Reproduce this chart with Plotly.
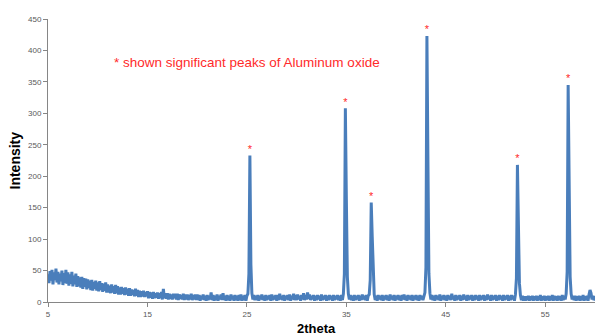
import plotly.graph_objects as go

# 2theta scan: start, step (degrees)
scan_start = 5.0
scan_step = 0.1

# Intensity, one row per degree (x.0 ... x.9)
intensity_rows = [
    [44, 30, 49, 34, 51, 28, 47, 35, 53, 31],   # 5
    [48, 28, 45, 33, 50, 27, 46, 30, 51, 29],   # 6
    [47, 26, 44, 29, 48, 25, 42, 28, 45, 24],   # 7
    [41, 25, 39, 23, 40, 21, 38, 24, 37, 20],   # 8
    [36, 22, 34, 19, 35, 18, 32, 21, 34, 18],   # 9
    [31, 17, 33, 19, 30, 16, 29, 18, 31, 15],   # 10
    [28, 15, 26, 14, 28, 15, 25, 13, 27, 14],   # 11
    [25, 12, 23, 12, 24, 13, 22, 11, 23, 12],   # 12
    [21, 10, 22, 10, 20, 11, 19, 9, 21, 10],    # 13
    [19, 8, 18, 8, 17, 9, 18, 8, 16, 9],        # 14
    [17, 6, 16, 7, 15, 5, 16, 6, 14, 7],        # 15
    [15, 5, 14, 6, 16, 4, 21, 6, 14, 5],        # 16
    [14, 4, 13, 5, 12, 4, 13, 6, 13, 4],        # 17
    [13, 3, 12, 5, 11, 4, 13, 3, 12, 4],        # 18
    [12, 3, 11, 4, 13, 3, 11, 4, 12, 3],        # 19
    [12, 3, 11, 2, 10, 4, 12, 3, 10, 2],        # 20
    [11, 3, 10, 4, 15, 3, 11, 2, 10, 3],        # 21
    [12, 2, 10, 4, 12, 3, 14, 3, 10, 2],        # 22
    [11, 3, 10, 2, 12, 4, 10, 2, 11, 3],        # 23
    [10, 2, 11, 3, 12, 2, 10, 3, 11, 2],        # 24
    [10, 13, 45, 233, 60, 14, 4, 11, 3, 10],    # 25
    [3, 11, 2, 10, 4, 12, 3, 10, 2, 11],        # 26
    [3, 10, 4, 11, 2, 12, 3, 10, 4, 11],        # 27
    [2, 11, 3, 13, 4, 10, 3, 11, 2, 10],        # 28
    [4, 11, 3, 12, 2, 10, 4, 13, 3, 11],        # 29
    [3, 12, 4, 10, 2, 11, 4, 14, 3, 11],        # 30
    [4, 15, 5, 12, 3, 10, 4, 11, 2, 10],        # 31
    [3, 11, 4, 10, 2, 12, 3, 10, 4, 11],        # 32
    [2, 10, 3, 11, 4, 10, 2, 11, 3, 10],        # 33
    [4, 11, 3, 10, 2, 11, 3, 13, 45, 308],      # 34
    [163, 40, 13, 4, 11, 3, 10, 2, 11, 3],      # 35
    [10, 4, 11, 2, 10, 3, 12, 4, 10, 3],        # 36
    [11, 2, 10, 12, 35, 158, 104, 30, 12, 3],   # 37
    [10, 2, 11, 4, 10, 3, 11, 2, 10, 4],        # 38
    [11, 3, 10, 2, 12, 4, 10, 3, 11, 2],        # 39
    [10, 4, 11, 3, 10, 2, 11, 4, 12, 3],        # 40
    [10, 2, 11, 4, 10, 3, 11, 2, 10, 4],        # 41
    [11, 3, 10, 2, 11, 4, 10, 3, 11, 15],       # 42
    [55, 423, 226, 45, 14, 4, 11, 3, 10, 2],    # 43
    [11, 4, 10, 3, 12, 2, 10, 4, 11, 3],        # 44
    [10, 2, 11, 4, 10, 3, 13, 4, 10, 2],        # 45
    [11, 3, 10, 4, 11, 2, 10, 3, 12, 4],        # 46
    [10, 2, 11, 3, 10, 4, 11, 2, 10, 3],        # 47
    [11, 4, 10, 2, 11, 3, 10, 4, 11, 2],        # 48
    [10, 3, 12, 4, 10, 2, 11, 3, 10, 4],        # 49
    [11, 2, 10, 3, 11, 4, 10, 2, 11, 3],        # 50
    [10, 4, 11, 2, 10, 3, 11, 4, 10, 2],        # 51
    [12, 38, 218, 94, 30, 11, 3, 10, 2, 9],     # 52
    [2, 9, 3, 10, 2, 9, 3, 10, 2, 9],           # 53
    [3, 10, 2, 9, 3, 11, 2, 9, 3, 10],          # 54
    [2, 9, 3, 10, 2, 9, 3, 11, 2, 10],          # 55
    [3, 9, 2, 10, 3, 9, 2, 11, 3, 10],          # 56
    [4, 13, 48, 345, 171, 40, 13, 4, 10, 3],    # 57
    [10, 2, 9, 3, 10, 2, 9, 3, 11, 2],          # 58
    [9, 3, 10, 2, 12, 19, 14, 4, 10, 3],        # 59
    [9, 2, 10, 3, 9, 2],                        # 60
]
intensity = [v for row in intensity_rows for v in row]
two_theta = [round(scan_start + scan_step * i, 1) for i in range(len(intensity))]

# Significant Al2O3 peaks marked with "*"
peak_positions = [25.3, 34.9, 37.5, 43.1, 52.2, 57.3]
peak_heights = [233, 308, 158, 423, 218, 345]

x_tick_values = [5, 15, 25, 35, 45, 55]
x_tick_labels = ["5", "15", "25", "35", "45", "55"]
y_tick_values = [0, 50, 100, 150, 200, 250, 300, 350, 400, 450]

note_text = "* shown significant peaks of Aluminum oxide"

FONT = "Liberation Sans"
AXIS_GREY = "#868686"
LABEL_GREY = "#595959"
BLUE = "#4A7EBB"
RED = "#FF2A2A"

fig = go.Figure()
fig.add_trace(go.Scatter(
    x=two_theta, y=intensity, mode="lines",
    line=dict(color=BLUE, width=3), hoverinfo="skip",
))
fig.add_trace(go.Scatter(
    x=peak_positions, y=peak_heights, mode="text", text=["*"] * len(peak_positions),
    textposition="top center", textfont=dict(color=RED, size=11, family=FONT),
    hoverinfo="skip",
))

fig.update_layout(
    width=595, height=336,
    margin=dict(l=48, r=0, t=19, b=34),
    paper_bgcolor="white", plot_bgcolor="white",
    showlegend=False,
    font=dict(family=FONT),
    xaxis=dict(
        range=[5, 60.0], tickmode="array", tickvals=x_tick_values, ticktext=x_tick_labels,
        ticks="outside", ticklen=4, tickcolor=AXIS_GREY, tickwidth=1,
        showline=True, linecolor=AXIS_GREY, linewidth=1,
        showgrid=False, zeroline=False,
        tickfont=dict(size=8, color=LABEL_GREY, family=FONT),
    ),
    yaxis=dict(
        range=[0, 450], tickmode="array", tickvals=y_tick_values,
        ticks="outside", ticklen=4, tickcolor=AXIS_GREY, tickwidth=1,
        showline=True, linecolor=AXIS_GREY, linewidth=1,
        showgrid=False, zeroline=False,
        tickfont=dict(size=8, color=LABEL_GREY, family=FONT),
    ),
    annotations=[
        dict(text="<b>Intensity</b>", xref="paper", yref="paper", x=0, y=0.5,
             xshift=-34, textangle=-90, showarrow=False,
             xanchor="center", yanchor="middle",
             font=dict(size=14, color="black", family=FONT)),
        dict(text="<b>2theta</b>", xref="paper", yref="paper", x=0.49, y=0,
             yshift=-26, showarrow=False, xanchor="center", yanchor="middle",
             font=dict(size=13, color="black", family=FONT)),
        dict(text=note_text, xref="paper", yref="paper", x=0.117, y=0.848,
             showarrow=False, xanchor="left", yanchor="middle",
             font=dict(size=13.5, color=RED, family=FONT)),
    ],
)

fig.write_html("out.html")
